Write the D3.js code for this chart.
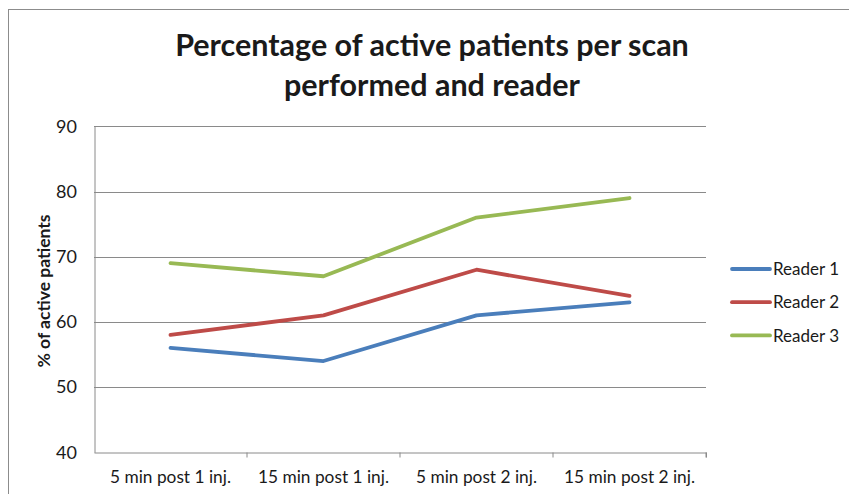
<!DOCTYPE html>
<html><head><meta charset="utf-8">
<script src="https://cdn.jsdelivr.net/npm/d3@7"></script>
<style>
body{margin:0;background:#fff;}
svg{display:block;font-family:Lato,"Open Sans",sans-serif;}
</style></head>
<body><svg id="c" width="849" height="494"></svg>
<script>
const categories = ["5 min post 1 inj.", "15 min post 1 inj.", "5 min post 2 inj.", "15 min post 2 inj."];
const reader1 = [56, 54, 61, 63];
const reader2 = [58, 61, 68, 64];
const reader3 = [69, 67, 76, 79];
const seriesNames = ["Reader 1", "Reader 2", "Reader 3"];
const seriesColors = ["#4a7ebb", "#be4b48", "#98b954"];
const yTicks = [40, 50, 60, 70, 80, 90];
const titleLines = ["Percentage of active patients per scan", "performed and reader"];
const yTitle = "% of active patients";

const series = [reader1, reader2, reader3].map((v, i) => ({name: seriesNames[i], color: seriesColors[i], values: v}));

const svg = d3.select("#c");
// outer frame
svg.append("rect").attr("x", 8.5).attr("y", 9.5).attr("width", 860).attr("height", 500)
  .attr("fill", "none").attr("stroke", "#8c8c8c").attr("stroke-width", 1);

const pLeft = 94, pRight = 706, pTop = 126.3, pBottom = 452.3;
const x = d3.scaleBand().domain(categories).range([pLeft, pRight]);
const y = d3.scaleLinear().domain([40, 90]).range([pBottom, pTop]);

// title
svg.append("text").attr("x", 432).attr("text-anchor", "middle")
  .attr("font-weight", "bold").attr("font-size", 30.5).attr("fill", "#1a1a1a")
  .selectAll("tspan").data(titleLines).join("tspan")
  .attr("x", 432).attr("y", (d, i) => 56 + i * 40).text(d => d);

// gridlines
svg.append("g").selectAll("line").data(yTicks.slice(1)).join("line")
  .attr("x1", pLeft).attr("x2", pRight)
  .attr("y1", d => Math.round(y(d)) + 0.5).attr("y2", d => Math.round(y(d)) + 0.5)
  .attr("stroke", "#8a8a8a").attr("stroke-width", 1);

// y axis
const ya = svg.append("g").attr("transform", `translate(${pLeft + 0.5},0)`)
  .call(d3.axisLeft(y).tickValues(yTicks).tickSize(0).tickPadding(17.5));
ya.select(".domain").attr("stroke", "#8a8a8a");
ya.selectAll("text").attr("font-size", 18).attr("fill", "#1a1a1a").attr("font-family", "Lato");

// x axis
const xBase = Math.round(pBottom) + 0.5;
const xa = svg.append("g").attr("transform", `translate(0,${xBase})`)
  .call(d3.axisBottom(x).tickSize(5).tickPadding(13).tickSizeOuter(0));
xa.select(".domain").attr("stroke", "#8a8a8a");
xa.selectAll(".tick line").attr("stroke", "#8a8a8a").attr("transform", `translate(${x.bandwidth() / 2},0)`);
xa.selectAll("text").attr("font-size", 17.3).attr("fill", "#1a1a1a").attr("font-family", "Lato");
svg.append("line").attr("x1", pRight + 0.5).attr("x2", pRight + 0.5)
  .attr("y1", xBase).attr("y2", xBase + 5).attr("stroke", "#8a8a8a");

// y title
svg.append("text").attr("transform", `translate(50,291) rotate(-90)`)
  .attr("text-anchor", "middle").attr("font-weight", "bold").attr("font-size", 17.5)
  .attr("fill", "#1a1a1a").text(yTitle);

// lines
const line = d3.line().x((d, i) => x(categories[i]) + x.bandwidth() / 2).y(d => y(d));
svg.append("g").selectAll("path").data(series).join("path")
  .attr("d", d => line(d.values)).attr("fill", "none")
  .attr("stroke", d => d.color).attr("stroke-width", 3.8)
  .attr("stroke-linejoin", "round").attr("stroke-linecap", "round");

// legend
const lg = svg.append("g").selectAll("g").data(series).join("g")
  .attr("transform", (d, i) => `translate(732,${269 + i * 33.2})`);
lg.append("line").attr("x1", 0).attr("x2", 38).attr("stroke", d => d.color)
  .attr("stroke-width", 3.8).attr("stroke-linecap", "round");
lg.append("text").attr("x", 41).attr("dy", "0.36em").attr("font-size", 17)
  .attr("fill", "#1a1a1a").text(d => d.name);
</script></body></html>
